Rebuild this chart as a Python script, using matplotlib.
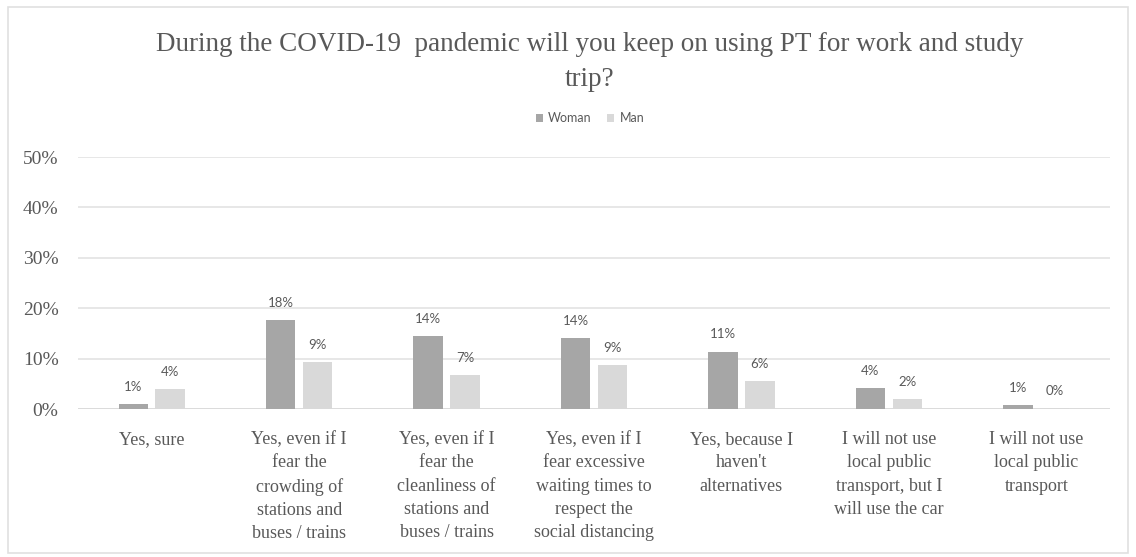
import matplotlib
matplotlib.use("Agg")
import matplotlib.pyplot as plt
import numpy as np
from matplotlib.patches import Rectangle

categories = [
    "Yes, sure",
    "Yes, even if I\nfear the\ncrowding of\nstations and\nbuses / trains",
    "Yes, even if I\nfear the\ncleanliness of\nstations and\nbuses / trains",
    "Yes, even if I\nfear excessive\nwaiting times to\nrespect the\nsocial distancing",
    "Yes, because I\nhaven't\nalternatives",
    "I will not use\nlocal public\ntransport, but I\nwill use the car",
    "I will not use\nlocal public\ntransport",
]
woman = [1.0, 17.6, 14.4, 14.0, 11.4, 4.1, 0.7]
man = [3.9, 9.4, 6.8, 8.8, 5.6, 2.0, 0.2]
yticks = [0, 10, 20, 30, 40, 50]

woman_color = "#a6a6a6"
man_color = "#d9d9d9"
text_color = "#595959"
grid_color = "#e3e3e3"

fig = plt.figure(figsize=(11.36, 5.57), dpi=100)
fig.patch.set_facecolor("white")

# light frame around the chart
fig.patches.append(Rectangle((8 / 1136, 4 / 557), 1 - 16 / 1136, 1 - 11 / 557,
                             transform=fig.transFigure, fill=False,
                             edgecolor="#e0e0e0", linewidth=1.2))

ax = fig.add_axes([78 / 1136, 1 - 409 / 557, (1110 - 78) / 1136, (409 - 157) / 557])
x = np.arange(len(categories))
w = 0.2
off = 0.125
ax.bar(x - off, woman, w, color=woman_color, label="Woman", zorder=3)
ax.bar(x + off, man, w, color=man_color, label="Man", zorder=3)

for xi, v in zip(x - off, woman):
    ax.text(xi, v + 2.2, f"{v:.0f}%", ha="center", va="bottom",
            fontsize=9.5, color=text_color, family="Lato")
for xi, v in zip(x + off, man):
    ax.text(xi, v + 2.2, f"{v:.0f}%", ha="center", va="bottom",
            fontsize=9.5, color=text_color, family="Lato")

ax.set_xlim(-0.5, len(categories) - 0.5)
ax.set_ylim(0, 50)
ax.set_yticks(yticks)
ax.set_yticklabels([f"{t}%" for t in yticks], family="Liberation Serif",
                   fontsize=14, color=text_color)
ax.set_xticks(x)
ax.set_xticklabels(categories, family="Liberation Serif", fontsize=13,
                   color=text_color, linespacing=1.48, va="top")
ax.tick_params(axis="both", length=0)
ax.tick_params(axis="y", pad=14)
ax.tick_params(axis="x", pad=16)
ax.grid(axis="y", color=grid_color, linewidth=1.2, zorder=0)
for s in ax.spines.values():
    s.set_visible(False)
ax.axhline(0, color="#d9d9d9", linewidth=1.2, zorder=2)

fig.text(590 / 1136, 1 - 62 / 557,
         "During the COVID-19  pandemic will you keep on using PT for work and study\ntrip?",
         ha="center", va="center", family="Liberation Serif", fontsize=19.5,
         color=text_color, linespacing=1.55)

leg = fig.legend(loc="center", bbox_to_anchor=(590 / 1136, 1 - 118 / 557),
                 ncol=2, frameon=False, handlelength=0.6, handleheight=0.6,
                 handletextpad=0.4, columnspacing=1.2,
                 prop={"family": "Lato", "size": 9})
for t in leg.get_texts():
    t.set_color(text_color)

fig.savefig("out.png", dpi=100, facecolor="white")
